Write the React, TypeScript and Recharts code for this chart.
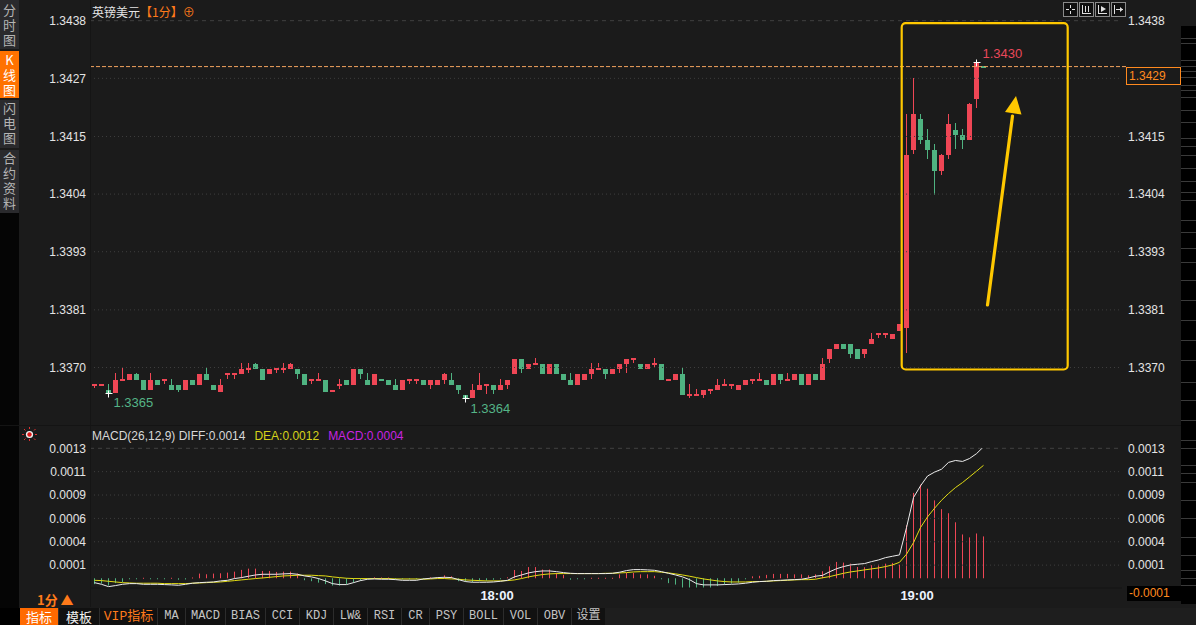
import React from "react";
import {
  ComposedChart,
  Bar,
  Line,
  XAxis,
  YAxis,
  ReferenceLine,
  ReferenceDot,
} from "recharts";

// GBP/USD, 1-minute candles, 17:03 - 19:10
const openPrices = [
  1.33665, 1.33665, 1.33656, 1.3365, 1.33674, 1.33676, 1.33687, 1.33675, 1.33656, 1.33675,
  1.33674, 1.33665, 1.33665, 1.33656, 1.33675, 1.33666, 1.33687, 1.33665, 1.33651, 1.33686,
  1.33686, 1.33687, 1.33695, 1.33707, 1.33697, 1.33687, 1.33695, 1.33695, 1.33697, 1.33697,
  1.33687, 1.33674, 1.33674, 1.33675, 1.33651, 1.33664, 1.33675, 1.33666, 1.33697, 1.33675,
  1.33666, 1.33677, 1.33675, 1.33665, 1.33656, 1.33674, 1.33674, 1.33675, 1.33666, 1.33666,
  1.33676, 1.33675, 1.33665, 1.33646, 1.3364, 1.33656, 1.33664, 1.33665, 1.33656, 1.33666,
  1.33687, 1.33716, 1.33697, 1.33705, 1.33707, 1.33687, 1.33707, 1.33687, 1.33675, 1.33666,
  1.33676, 1.33687, 1.33695, 1.33697, 1.33687, 1.33697, 1.33707, 1.33715, 1.33707, 1.33697,
  1.33705, 1.33707, 1.33674, 1.33676, 1.33687, 1.33645, 1.33645, 1.33647, 1.33655, 1.33656,
  1.33664, 1.33664, 1.33656, 1.33666, 1.33674, 1.33674, 1.33675, 1.33666, 1.33687, 1.33674,
  1.33676, 1.33687, 1.33666, 1.33687, 1.33676, 1.33716, 1.33736, 1.33746, 1.33746, 1.33736,
  1.33726, 1.33746, 1.33765, 1.33765, 1.33755, 1.33772, 1.33777, 1.34126, 1.34187, 1.34146,
  1.34126, 1.34085, 1.34117, 1.34165, 1.34156, 1.34146, 1.34226, 1.34292,
];
const highPrices = [
  1.33667, 1.33667, 1.33667, 1.33689, 1.33699, 1.33687, 1.33689, 1.33675, 1.33689, 1.33675,
  1.33677, 1.33677, 1.33665, 1.33675, 1.33675, 1.33687, 1.33699, 1.33665, 1.33677, 1.33689,
  1.33689, 1.33709, 1.33709, 1.33709, 1.33697, 1.33697, 1.33699, 1.33709, 1.33709, 1.33697,
  1.33687, 1.33677, 1.33689, 1.33675, 1.33656, 1.33677, 1.33675, 1.33697, 1.33697, 1.33689,
  1.33687, 1.33677, 1.33675, 1.33677, 1.33675, 1.33677, 1.33677, 1.33675, 1.33675, 1.33675,
  1.33689, 1.33689, 1.33665, 1.33646, 1.33667, 1.33689, 1.33667, 1.33665, 1.33677, 1.33675,
  1.33716, 1.33716, 1.33707, 1.33718, 1.33707, 1.33707, 1.33707, 1.33687, 1.33689, 1.33687,
  1.33687, 1.33709, 1.33709, 1.33697, 1.33697, 1.33707, 1.33716, 1.33718, 1.33707, 1.33707,
  1.33718, 1.33707, 1.33677, 1.33687, 1.33699, 1.33667, 1.33658, 1.33656, 1.33658, 1.33677,
  1.33677, 1.33667, 1.33665, 1.33675, 1.33677, 1.33689, 1.33675, 1.33687, 1.33687, 1.33689,
  1.33687, 1.33687, 1.33687, 1.33687, 1.33718, 1.33736, 1.33746, 1.33746, 1.33746, 1.33736,
  1.33736, 1.33768, 1.33768, 1.33768, 1.33766, 1.33786, 1.34198, 1.34268, 1.34198, 1.34167,
  1.34138, 1.34119, 1.34198, 1.34179, 1.34167, 1.34218, 1.343, 1.34292,
];
const lowPrices = [
  1.33659, 1.33665, 1.3365, 1.3365, 1.33674, 1.33676, 1.33676, 1.33656, 1.33656, 1.33666,
  1.33667, 1.33656, 1.33651, 1.33656, 1.33666, 1.33666, 1.33676, 1.33656, 1.33651, 1.33677,
  1.33677, 1.33687, 1.33689, 1.33697, 1.33676, 1.33687, 1.33689, 1.33689, 1.33697, 1.33677,
  1.33666, 1.33667, 1.33674, 1.33651, 1.33651, 1.33658, 1.33666, 1.33666, 1.33677, 1.33666,
  1.33666, 1.33674, 1.33666, 1.33656, 1.33656, 1.33667, 1.33667, 1.33666, 1.33658, 1.33666,
  1.33667, 1.33666, 1.33648, 1.3364, 1.3364, 1.33656, 1.33648, 1.33648, 1.33656, 1.33658,
  1.33687, 1.33689, 1.33697, 1.33705, 1.33687, 1.33687, 1.33687, 1.33676, 1.33666, 1.33666,
  1.33676, 1.33677, 1.33695, 1.33677, 1.33687, 1.33689, 1.33689, 1.33709, 1.33697, 1.33697,
  1.33699, 1.33676, 1.33674, 1.33676, 1.33647, 1.33641, 1.33645, 1.33641, 1.33648, 1.33656,
  1.33664, 1.33658, 1.33656, 1.33666, 1.33667, 1.33674, 1.33666, 1.33666, 1.33667, 1.33674,
  1.33676, 1.33666, 1.33666, 1.33676, 1.33676, 1.33709, 1.33736, 1.33736, 1.33718, 1.33716,
  1.33718, 1.33746, 1.33757, 1.33757, 1.33755, 1.33772, 1.33728, 1.34119, 1.34138, 1.34109,
  1.34039, 1.34078, 1.34109, 1.34128, 1.34128, 1.34146, 1.34209, 1.3429,
];
const closePrices = [
  1.33667, 1.33667, 1.3365, 1.33675, 1.33677, 1.33687, 1.33676, 1.33656, 1.33675, 1.33666,
  1.33677, 1.33656, 1.33656, 1.33675, 1.33666, 1.33687, 1.33676, 1.33656, 1.33665, 1.33689,
  1.33689, 1.33697, 1.33699, 1.33697, 1.33676, 1.33697, 1.33699, 1.33699, 1.33707, 1.33687,
  1.33666, 1.33677, 1.33677, 1.33651, 1.33656, 1.33667, 1.33666, 1.33697, 1.33687, 1.33666,
  1.33687, 1.33674, 1.33666, 1.33656, 1.33675, 1.33677, 1.33677, 1.33666, 1.33675, 1.33675,
  1.33687, 1.33666, 1.33656, 1.3364, 1.33656, 1.33665, 1.33667, 1.33656, 1.33665, 1.33675,
  1.33716, 1.33697, 1.33707, 1.33709, 1.33687, 1.33707, 1.33687, 1.33676, 1.33666, 1.33687,
  1.33687, 1.33697, 1.33699, 1.33687, 1.33697, 1.33707, 1.33716, 1.33718, 1.33697, 1.33707,
  1.33709, 1.33676, 1.33677, 1.33687, 1.33647, 1.33648, 1.33648, 1.33656, 1.33658, 1.33665,
  1.33667, 1.33667, 1.33665, 1.33675, 1.33677, 1.33677, 1.33666, 1.33687, 1.33676, 1.33677,
  1.33687, 1.33666, 1.33687, 1.33676, 1.33707, 1.33736, 1.33746, 1.33736, 1.33726, 1.33716,
  1.33736, 1.33755, 1.33768, 1.33768, 1.33766, 1.33786, 1.34117, 1.34197, 1.34146, 1.34126,
  1.34085, 1.34117, 1.34177, 1.34156, 1.34146, 1.34216, 1.34298, 1.3429,
];

// MACD(26,12,9)
const diffValues = [
  -0.000045, -0.000062, -0.000086, -0.000075, -0.000062, -0.000055, -0.000055, -0.000062, -0.000062, -0.000062,
  -0.000065, -0.000068, -0.000072, -0.000062, -0.000051, -0.000045, -0.000041, -0.000038, -0.000027, -0.000021,
  -0.000003, 0.000007, 0.000021, 0.000034, 0.000041, 0.000041, 0.000041, 0.000045, 0.000048, 0.000041,
  0.000024, 0.000014, -0.000003, -0.000027, -0.000055, -0.000065, -0.000065, -0.000045, -0.000024, -0.00001,
  -0.000007, -0.00001, -0.00001, -0.000014, -0.000021, -0.000021, -0.000021, -0.000007, 0, 0.000007,
  0.00001, 0.000007, -0.000014, -0.000034, -0.000041, -0.000041, -0.000041, -0.000038, -0.000031, -0.000021,
  0.000014, 0.000034, 0.000055, 0.000068, 0.000075, 0.000075, 0.000068, 0.000058, 0.000051, 0.000048,
  0.000048, 0.000048, 0.000048, 0.000048, 0.000051, 0.000062, 0.000079, 0.000089, 0.000089, 0.000086,
  0.000082, 0.000068, 0.000051, 0.000034, 0.000014, -0.000014, -0.000055, -0.000068, -0.000068, -0.000068,
  -0.000065, -0.000062, -0.000058, -0.000051, -0.000041, -0.000034, -0.000031, -0.000024, -0.000021, -0.000017,
  -0.000014, -0.00001, 0.000003, 0.000021, 0.00003, 0.000066, 0.000098, 0.00012, 0.000137, 0.000144,
  0.000151, 0.000171, 0.000188, 0.000212, 0.000226, 0.00024, 0.00052, 0.000829, 0.000949, 0.00105,
  0.00109, 0.00112, 0.00119, 0.00121, 0.0012, 0.00123, 0.00128, 0.00135,
];
const deaValues = [
  -0.000021, -0.000024, -0.000031, -0.000038, -0.000045, -0.000048, -0.000051, -0.000051, -0.000051, -0.000051,
  -0.000055, -0.000055, -0.000055, -0.000055, -0.000051, -0.000048, -0.000045, -0.000041, -0.000038, -0.000031,
  -0.000024, -0.000017, -0.00001, -0.000003, 0.000003, 0.00001, 0.000017, 0.000024, 0.000027, 0.000031,
  0.000031, 0.000031, 0.000027, 0.000024, 0.000014, 0.000007, 0, -0.000003, -0.000003, -0.000003,
  -0.000003, -0.000003, -0.000003, -0.000007, -0.000007, -0.000007, -0.000007, -0.00001, -0.000007, -0.000003,
  -0.000003, -0.000007, -0.00001, -0.000017, -0.000021, -0.000024, -0.000027, -0.000027, -0.000027, -0.000024,
  -0.000017, -0.000003, 0.000014, 0.000027, 0.000038, 0.000045, 0.000048, 0.000048, 0.000048, 0.000048,
  0.000048, 0.000048, 0.000048, 0.000051, 0.000051, 0.000055, 0.000058, 0.000065, 0.000068, 0.000068,
  0.000068, 0.000062, 0.000055, 0.000045, 0.000034, 0.000021, 0.000007, -0.000007, -0.000017, -0.000027,
  -0.000034, -0.000038, -0.000038, -0.000038, -0.000034, -0.000034, -0.000031, -0.000027, -0.000024, -0.000021,
  -0.000017, -0.000014, -0.000014, -0.00001, 0.000005, 0.000017, 0.000034, 0.000051, 0.000065, 0.000075,
  0.000086, 0.000096, 0.000106, 0.00012, 0.000137, 0.000164, 0.000247, 0.000366, 0.000521, 0.00063,
  0.000719, 0.000801, 0.00087, 0.000932, 0.000983, 0.001041, 0.0011, 0.00116,
];
const macdValues = [
  -0.00006, -0.000055, -0.000075, -0.00005, -0.00004, -0.00001, -0.000005, 0.000005, -0.000005, -0.000008,
  -0.00001, 0.000005, -0.000015, -0.000012, 0.000008, 0.000048, 0.000041, 0.000048, 0.000051, 0.000058,
  0.000068, 0.000086, 0.000099, 0.000099, 0.000075, 0.000075, 0.000065, 0.000068, 0.000068, 0.000048,
  -0.00002, -0.00003, -0.000045, -0.00006, -0.000075, -0.000075, -0.00006, -0.000045, -0.000025, -0.00001,
  0.00001, 0.000008, 0.000008, -0.000005, -0.00001, -0.00001, -0.000008, -0.00001, 0.00001, 0.00001,
  0.00003, 0.00002, -0.00003, -0.000035, -0.00004, -0.00003, -0.000025, -0.000015, -0.000005, 0.00001,
  0.000085, 0.000075, 0.000115, 0.000115, 0.00009, 0.00009, 0.000055, 0.000035, -0.000015, -0.000005,
  -0.000005, 0.000005, 0.000005, 0.000005, 0.000005, 0.00004, 0.000055, 0.000055, 0.00004, 0.00004,
  0.000025, -0.00001, -0.00005, -0.000065, -0.0001, -0.000105, -0.000105, -0.000105, -0.0001, -0.00008,
  -0.000065, -0.000055, -0.000045, -0.00001, 0.00002, 0.000025, 0.000035, 0.000045, 0.000045, 0.000045,
  0.00004, 0.00004, 0.00003, 0.00004, 0.000072, 0.000123, 0.000168, 0.000161, 0.00015, 0.000116,
  0.000113, 0.000134, 0.00014, 0.00015, 0.000158, 0.00014, 0.000545, 0.000877, 0.000962, 0.00092,
  0.0008, 0.00071, 0.000668, 0.000575, 0.00045, 0.00042, 0.00046, 0.00043,
];

const priceTicks = [1.337, 1.33813, 1.33927, 1.3404, 1.34153, 1.34267, 1.3438];
const macdTicks = [0.000135, 0.000375, 0.000615, 0.000855, 0.001095, 0.001335];
const timeTicks = ["18:00", "19:00"];
const toolbarTabs = ["MA", "MACD", "BIAS", "CCI", "KDJ", "LW&", "RSI", "CR", "PSY", "BOLL", "VOL", "OBV", "设置"];

const firstMinute = 17 * 60 + 3;
const times = openPrices.map((_, i) => {
  const m = firstMinute + i;
  return `${Math.floor(m / 60)}:${String(m % 60).padStart(2, "0")}`;
});

const candles = times.map((time, i) => ({
  time,
  open: openPrices[i],
  high: highPrices[i],
  low: lowPrices[i],
  close: closePrices[i],
}));
const macdRows = times.map((time, i) => ({
  time,
  diff: diffValues[i],
  dea: deaValues[i],
  macd: macdValues[i],
}));

const lastClose = closePrices[closePrices.length - 1];

const BG = "#1b1b1b";
const UP = "#ef4655";
const DOWN = "#4fb381";
const FONT = '"Liberation Sans", Arial, "Noto Sans CJK SC", sans-serif';
const CJK = '"Noto Sans CJK SC", "Liberation Sans", sans-serif';
const MONO = '"Liberation Mono", "DejaVu Sans Mono", "Noto Sans CJK SC", monospace';
const axisTick = { fill: "#e4e4e4", fontSize: 12, fontFamily: FONT };

function Candle(props: any) {
  const { x, y, width, height, payload } = props;
  if (x == null || y == null || !payload) return null;
  const top = Math.min(y, y + height);
  const bottom = Math.max(y, y + height);
  const { open, high, low, close } = payload;
  const span = high - low || 1;
  const toY = (p: number) => top + ((high - p) / span) * (bottom - top);
  const color = close >= open ? UP : DOWN;
  const cx = Math.floor(x + width / 2) + 0.5;
  const bodyTop = Math.round(toY(Math.max(open, close)));
  const bodyBottom = Math.round(toY(Math.min(open, close)));
  return (
    <g>
      <line x1={cx} x2={cx} y1={Math.round(top)} y2={Math.max(Math.round(bottom), Math.round(top) + 1)} stroke={color} />
      <rect x={cx - 2.5} y={bodyTop} width={5} height={Math.max(2, bodyBottom - bodyTop)} fill={color} />
    </g>
  );
}

function MacdStick(props: any) {
  const { x, y, width, height, payload } = props;
  if (x == null || y == null || !payload) return null;
  const top = Math.min(y, y + height);
  return (
    <rect
      x={Math.floor(x + width / 2)}
      y={top}
      width={1}
      height={Math.max(1, Math.abs(height))}
      fill={payload.macd >= 0 ? UP : DOWN}
    />
  );
}

// right price axis: the last-price tag covers the tick next to it
function RightPriceTick(props: any) {
  const { x, y, payload, textAnchor } = props;
  if (!payload || Math.abs(payload.value - lastClose) < 0.0003) return null;
  return (
    <text x={x} y={y} dy="0.355em" textAnchor={textAnchor} fill={axisTick.fill} fontSize={12} fontFamily={FONT}>
      {payload.value.toFixed(4)}
    </text>
  );
}

function LastPriceTag(props: any) {
  const vb = props.viewBox;
  if (!vb) return null;
  const x = vb.x + vb.width + 4;
  const y = Math.round(vb.y);
  return (
    <g>
      <line x1={vb.x + vb.width} x2={x} y1={vb.y} y2={vb.y} stroke="#f2a35e" strokeDasharray="4 2" />
      <rect x={x + 0.5} y={y + 0.5} width={54} height={17} fill={BG} stroke="#ff8a1f" />
      <text x={x + 3} y={y + 13} fill="#ff8a1f" fontSize={12} fontFamily={FONT}>
        {props.value.toFixed(4)}
      </text>
    </g>
  );
}

function ExtremeMark(props: any) {
  const { cx, cy, text, color, dx, dy } = props;
  if (cx == null || cy == null) return null;
  const x = Math.floor(cx) + 0.5;
  const y = Math.round(cy) + 0.5;
  return (
    <g>
      <line x1={x - 3} x2={x + 4} y1={y} y2={y} stroke="#ffffff" />
      <line x1={x} x2={x} y1={y - 3} y2={y + 4} stroke="#ffffff" />
      <text x={cx + dx} y={cy + dy} fill={color} fontSize={13} fontFamily={FONT} dominantBaseline="central">
        {text}
      </text>
    </g>
  );
}

const sideTabs = [
  { label: "分时图", top: 0, height: 49, pad: 4, active: false },
  { label: "K线图", top: 51, height: 47, pad: 3, active: true },
  { label: "闪电图", top: 100, height: 48, pad: 2, active: false },
  { label: "合约资料", top: 150, height: 63, pad: 2, active: false },
];

const ladderLines = [38, 43, 60, 66, 71, 77, 85, 90, 97, 110, 122, 138, 146, 155, 168, 181, 192, 200, 220, 232, 248, 262, 280, 300, 320, 340, 360, 382, 400, 420, 440, 448, 465, 473, 482, 500, 518, 537, 555, 570, 578, 585];

export default function App() {
  const priceTop = priceTicks[priceTicks.length - 1];
  const macdTop = macdTicks[macdTicks.length - 1];
  return (
    <div
      style={{
        position: "fixed",
        left: 0,
        top: 0,
        width: 1196,
        height: 625,
        background: BG,
        overflow: "hidden",
        fontFamily: FONT,
      }}
    >
      {/* left sidebar */}
      <div style={{ position: "absolute", left: 0, top: 213, width: 19, height: 395, background: "#050505" }} />
      {sideTabs.map((t) => (
        <div
          key={t.label}
          style={{
            position: "absolute",
            left: 0,
            top: t.top,
            width: 19,
            height: t.height,
            background: t.active ? "#ff7200" : "#2a2a2d",
            color: t.active ? "#ffffff" : "#b4b4b4",
            display: "flex",
            justifyContent: "center",
            paddingTop: t.pad,
            boxSizing: "border-box",
          }}
        >
          <span
            style={{
              writingMode: "vertical-rl",
              textOrientation: "upright",
              whiteSpace: "nowrap",
              fontFamily: CJK,
              fontSize: 13,
              letterSpacing: 2,
              lineHeight: "19px",
            }}
          >
            {t.label}
          </span>
        </div>
      ))}

      {/* price pane */}
      <div style={{ position: "absolute", left: 0, top: 0 }}>
        <ComposedChart width={1196} height={425} data={candles} margin={{ top: 20.7, right: 0, bottom: 6.5, left: 0 }}>
          <XAxis dataKey="time" hide padding={{ left: 1, right: 135 }} />
          <YAxis
            yAxisId="l"
            orientation="left"
            width={90}
            domain={[1.336, 1.3438]}
            allowDataOverflow
            ticks={priceTicks}
            interval={0}
            tickFormatter={(v: number) => v.toFixed(4)}
            axisLine={false}
            tickLine={false}
            tickSize={0}
            tickMargin={4}
            tick={axisTick}
          />
          <YAxis
            yAxisId="r"
            orientation="right"
            width={74}
            domain={[1.336, 1.3438]}
            allowDataOverflow
            ticks={priceTicks}
            interval={0}
            axisLine={false}
            tickLine={false}
            tickSize={0}
            tickMargin={6}
            tick={<RightPriceTick />}
          />
          {priceTicks.map((v) => (
            <ReferenceLine
              key={v}
              yAxisId="l"
              y={v}
              stroke={v === priceTop ? "#414141" : "#3e3e3e"}
              strokeDasharray={v === priceTop ? "4 4" : "1 3"}
            />
          ))}
          <Bar
            yAxisId="l"
            dataKey={(d: any) => [d.low, d.high]}
            barSize={5}
            shape={(p: any) => <Candle {...p} />}
            isAnimationActive={false}
          />
          <ReferenceLine
            yAxisId="l"
            y={lastClose}
            stroke="#f2a35e"
            strokeDasharray="4 2"
            label={<LastPriceTag value={lastClose} />}
          />
          <ReferenceDot
            yAxisId="l"
            x={times[2]}
            y={lowPrices[2]}
            shape={(p: any) => <ExtremeMark {...p} text={lowPrices[2].toFixed(4)} color="#55b487" dx={5} dy={9} />}
          />
          <ReferenceDot
            yAxisId="l"
            x={times[53]}
            y={lowPrices[53]}
            shape={(p: any) => <ExtremeMark {...p} text={lowPrices[53].toFixed(4)} color="#55b487" dx={5} dy={10} />}
          />
          <ReferenceDot
            yAxisId="l"
            x={times[126]}
            y={highPrices[126]}
            shape={(p: any) => <ExtremeMark {...p} text={highPrices[126].toFixed(4)} color="#e8485a" dx={6} dy={-8} />}
          />
        </ComposedChart>
      </div>

      {/* MACD pane */}
      <div style={{ position: "absolute", left: 0, top: 420 }}>
        <ComposedChart width={1196} height={188} data={macdRows} margin={{ top: 28.3, right: 0, bottom: 0, left: 0 }}>
          <XAxis
            dataKey="time"
            ticks={timeTicks}
            interval={0}
            height={20}
            padding={{ left: 1, right: 135 }}
            tickSize={0}
            tickMargin={3}
            axisLine={{ stroke: "#141414" }}
            tickLine={false}
            tick={{ fill: "#eef4ff", fontSize: 13, fontWeight: 700, fontFamily: FONT, dx: 3.5 }}
          />
          <YAxis
            yAxisId="l"
            orientation="left"
            width={90}
            domain={[-0.0001, macdTop]}
            allowDataOverflow
            ticks={macdTicks}
            interval={0}
            tickFormatter={(v: number) => v.toFixed(4)}
            axisLine={false}
            tickLine={false}
            tickSize={0}
            tickMargin={4}
            tick={axisTick}
          />
          <YAxis
            yAxisId="r"
            orientation="right"
            width={74}
            domain={[-0.0001, macdTop]}
            allowDataOverflow
            ticks={macdTicks}
            interval={0}
            tickFormatter={(v: number) => v.toFixed(4)}
            axisLine={false}
            tickLine={false}
            tickSize={0}
            tickMargin={6}
            tick={axisTick}
          />
          {macdTicks.map((v) => (
            <ReferenceLine
              key={v}
              yAxisId="l"
              y={v}
              stroke={v === macdTop ? "#414141" : "#3e3e3e"}
              strokeDasharray={v === macdTop ? "4 4" : "1 3"}
            />
          ))}
          <Bar yAxisId="l" dataKey="macd" barSize={1} shape={(p: any) => <MacdStick {...p} />} isAnimationActive={false} />
          <Line yAxisId="l" dataKey="dea" stroke="#e2dc14" strokeWidth={1} dot={false} isAnimationActive={false} />
          <Line yAxisId="l" dataKey="diff" stroke="#ececec" strokeWidth={1} dot={false} isAnimationActive={false} />
        </ComposedChart>
      </div>

      {/* titles */}
      <div style={{ position: "absolute", left: 92, top: 3, fontSize: 12, fontFamily: CJK, whiteSpace: "nowrap" }}>
        <span style={{ color: "#e4e4e4" }}>英镑美元</span>
        <span style={{ color: "#ff7a1a" }}>【1分】⊕</span>
      </div>
      <div style={{ position: "absolute", left: 92, top: 429, fontSize: 12, fontFamily: FONT, whiteSpace: "nowrap" }}>
        <span style={{ color: "#d8d8d8" }}>MACD(26,12,9) DIFF:{diffValues[diffValues.length - 1].toFixed(4)}</span>
        <span style={{ color: "#d6d21a", marginLeft: 9 }}>DEA:{deaValues[deaValues.length - 1].toFixed(4)}</span>
        <span style={{ color: "#c824e0", marginLeft: 9 }}>MACD:{macdValues[macdValues.length - 1].toFixed(4)}</span>
      </div>
      <div
        style={{
          position: "absolute",
          left: 37,
          top: 593,
          fontSize: 13,
          lineHeight: "14px",
          height: 14,
          fontWeight: 700,
          color: "#ff7a1a",
          fontFamily: CJK,
          whiteSpace: "nowrap",
        }}
      >
        1分 ▲
      </div>
      <div
        style={{
          position: "absolute",
          left: 1127,
          top: 586,
          width: 67,
          height: 15,
          background: "#000",
          color: "#ff8a1f",
          fontSize: 12,
          lineHeight: "15px",
          paddingLeft: 2,
          boxSizing: "border-box",
        }}
      >
        -0.0001
      </div>

      {/* bottom toolbar */}
      <div style={{ position: "absolute", left: 0, top: 608, width: 1196, height: 17, background: "#1e1e1e" }} />
      <div style={{ position: "absolute", left: 0, top: 608, width: 20, height: 17, background: "#000" }} />
      <div
        style={{
          position: "absolute",
          left: 20,
          top: 608,
          height: 17,
          display: "flex",
          background: "#2c2c2c",
          gap: 1,
          fontSize: 12,
          lineHeight: "17px",
        }}
      >
        <div style={{ width: 38, background: "#ff6a00", color: "#fff", textAlign: "center", fontFamily: CJK, fontSize: 13 }}>指标</div>
        <div style={{ width: 40, background: "#111", color: "#f2f2f2", textAlign: "center", fontFamily: CJK, fontSize: 13 }}>模板</div>
        <div style={{ width: 57, background: "#111", color: "#ff7a1a", textAlign: "center", fontFamily: MONO, fontSize: 13 }}>VIP指标</div>
        {toolbarTabs.map((t) => (
          <div
            key={t}
            style={{
              width: t.length > 3 ? 39 : t.length === 2 && /[A-Z]/.test(t) ? 27 : 33,
              background: "#111",
              color: "#c4c4c4",
              textAlign: "center",
              fontFamily: MONO,
            }}
          >
            {t}
          </div>
        ))}
      </div>

      {/* drawn annotations and frame details */}
      <svg width={1196} height={625} style={{ position: "absolute", left: 0, top: 0, pointerEvents: "none" }}>
        <line x1={90.5} x2={90.5} y1={0} y2={607} stroke="#151515" />
        <line x1={0} x2={1196} y1={425.5} y2={425.5} stroke="#141414" />
        <rect x={1181} y={26} width={15} height={578} fill="#000" />
        {ladderLines.map((y) => (
          <line key={y} x1={1181} x2={1196} y1={y + 0.5} y2={y + 0.5} stroke="#3a3a3a" />
        ))}
        <rect x={901.7} y={23.2} width={166} height={346.3} rx={4} fill="none" stroke="#ffc800" strokeWidth={2.2} />
        <line x1={987.5} y1={305} x2={1012.5} y2={116} stroke="#ffc800" strokeWidth={3.2} strokeLinecap="round" />
        <polygon points="1016,96 1005,112 1021.5,114.5" fill="#ffc800" />
        {/* toolbar icons, top right */}
        {[1063, 1079, 1095, 1111].map((x) => (
          <rect key={x} x={x + 0.5} y={2.5} width={14} height={14} fill="#101010" stroke="#8a8a8a" />
        ))}
        <g stroke="#e0e0e0" strokeWidth={1}>
          <line x1={1070.5} x2={1070.5} y1={5} y2={8} />
          <line x1={1070.5} x2={1070.5} y1={11} y2={14} />
          <line x1={1066} x2={1069} y1={9.5} y2={9.5} />
          <line x1={1072} x2={1075} y1={9.5} y2={9.5} />
          <line x1={1082.5} x2={1082.5} y1={5} y2={14} />
          <line x1={1082} x2={1091} y1={13.5} y2={13.5} />
          <line x1={1085.5} x2={1085.5} y1={6} y2={12} />
          <line x1={1088.5} x2={1088.5} y1={6} y2={12} />
          <line x1={1098.5} x2={1098.5} y1={5} y2={14} />
          <line x1={1098} x2={1107} y1={13.5} y2={13.5} />
          <line x1={1114.5} x2={1114.5} y1={5} y2={14} />
          <line x1={1116} x2={1123} y1={9.5} y2={9.5} />
        </g>
        <polygon points="1101,6 1101,12 1106,9" fill="#e0e0e0" />
        <polygon points="1123,9.5 1120,7 1120,12" fill="#e0e0e0" />
        {/* indicator settings icon */}
        <g stroke="#e03030" strokeWidth={1}>
          <line x1={29.5} x2={29.5} y1={427} y2={429} />
          <line x1={29.5} x2={29.5} y1={439} y2={441} />
          <line x1={22} x2={24} y1={434.5} y2={434.5} />
          <line x1={35} x2={37} y1={434.5} y2={434.5} />
          <line x1={24} x2={25.5} y1={429} y2={430.5} />
          <line x1={34} x2={35.5} y1={438.5} y2={440} />
          <line x1={34} x2={35.5} y1={430.5} y2={429} />
          <line x1={24} x2={25.5} y1={440} y2={438.5} />
        </g>
        <circle cx={29.5} cy={434.5} r={3.6} fill="#f2f2f2" />
        <circle cx={29.5} cy={434.5} r={2.2} fill="#e01818" />
      </svg>
    </div>
  );
}
